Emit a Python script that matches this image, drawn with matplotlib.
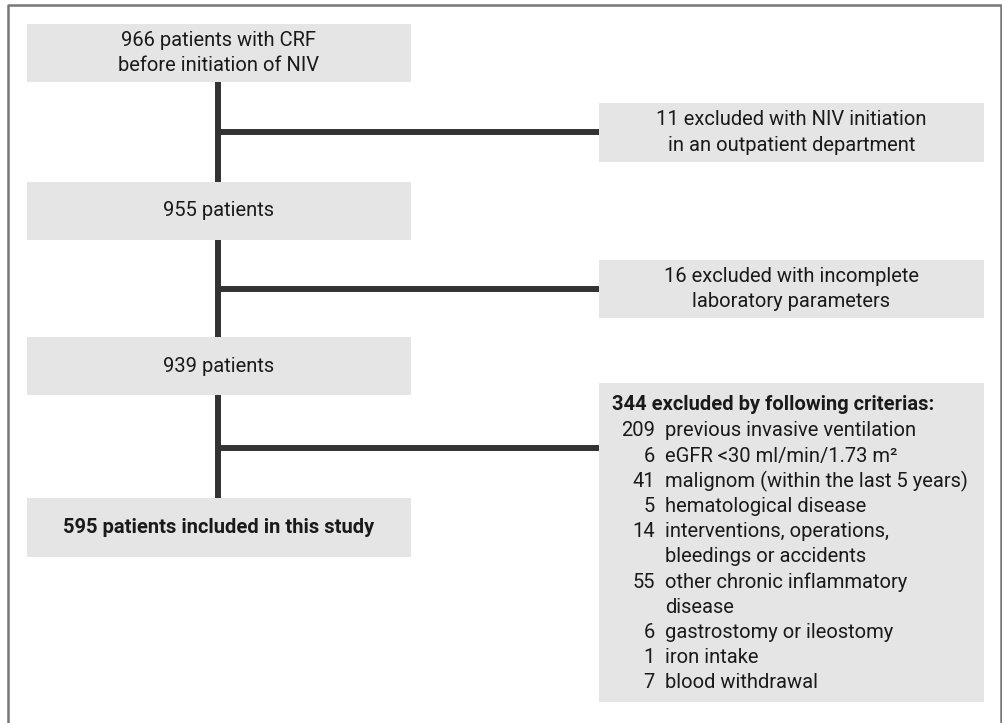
import matplotlib.pyplot as plt
from matplotlib.patches import Rectangle

plt.rcParams['font.family'] = ['Roboto', 'DejaVu Sans']

# main flow boxes (top to bottom)
main_labels = ["966 patients with CRF\nbefore initiation of NIV",
               "955 patients",
               "939 patients",
               "595 patients included in this study"]
main_top = [24, 182, 337, 498]
main_bottom = [82, 240, 395, 557]

# exclusion boxes on the right
excl_labels = ["11 excluded with NIV initiation\nin an outpatient department",
               "16 excluded with incomplete\nlaboratory parameters"]
excl_top = [103, 260]
excl_bottom = [162, 318]

crit_header = "344 excluded by following criterias:"
crit_counts = ["209", "6", "41", "5", "14", "", "55", "", "6", "1", "7"]
crit_texts = ["previous invasive ventilation",
              "eGFR <30 ml/min/1.73 m²",
              "malignom (within the last 5 years)",
              "hematological disease",
              "interventions, operations,",
              "bleedings or accidents",
              "other chronic inflammatory",
              "disease",
              "gastrostomy or ileostomy",
              "iron intake",
              "blood withdrawal"]

branch_y = [132, 289, 448]

W, H = 1003, 723
fig = plt.figure(figsize=(W / 100, H / 100), dpi=100)
ax = fig.add_axes([0, 0, 1, 1])
ax.set_xlim(0, W)
ax.set_ylim(H, 0)
ax.axis('off')

box_c = '#e5e5e5'
line_c = '#333333'
txt_c = '#1a1a1a'
fs = 14.5
lsp = 1.45

# outer frame (open at bottom)
ax.plot([8, 8, 1001, 1001], [723, 5, 5, 723], color='#777777', lw=1.8)

# main boxes
mx0, mx1 = 27, 411
for i, lab in enumerate(main_labels):
    ax.add_patch(Rectangle((mx0, main_top[i]), mx1 - mx0, main_bottom[i] - main_top[i],
                           facecolor=box_c, edgecolor='none'))
    ax.text((mx0 + mx1) / 2, (main_top[i] + main_bottom[i]) / 2, lab,
            ha='center', va='center', fontsize=fs, color=txt_c,
            linespacing=lsp, fontweight='bold' if i == 3 else 'normal')

# vertical connectors
vx = 218
for i in range(3):
    ax.plot([vx, vx], [main_bottom[i], main_top[i + 1]], color=line_c, lw=4.3,
            solid_capstyle='butt')

# right boxes
rx0, rx1 = 599, 984
for i, lab in enumerate(excl_labels):
    ax.add_patch(Rectangle((rx0, excl_top[i]), rx1 - rx0, excl_bottom[i] - excl_top[i],
                           facecolor=box_c, edgecolor='none'))
    ax.text((rx0 + rx1) / 2, (excl_top[i] + excl_bottom[i]) / 2, lab,
            ha='center', va='center', fontsize=fs, color=txt_c, linespacing=lsp)

ax.add_patch(Rectangle((rx0, 383), rx1 - rx0, 702 - 383, facecolor=box_c, edgecolor='none'))
ax.text(612, 405, crit_header, ha='left', va='center', fontsize=fs,
        fontweight='bold', color=txt_c)
for j, (n, t) in enumerate(zip(crit_counts, crit_texts)):
    y = 431 + j * 25.2
    ax.text(655, y, n, ha='right', va='center', fontsize=fs, color=txt_c)
    ax.text(665, y, t, ha='left', va='center', fontsize=fs, color=txt_c)

# horizontal branches
for y in branch_y:
    ax.plot([vx - 2, rx0], [y, y], color=line_c, lw=4.3, solid_capstyle='butt')

fig.savefig('out.png', dpi=100, facecolor='white')
